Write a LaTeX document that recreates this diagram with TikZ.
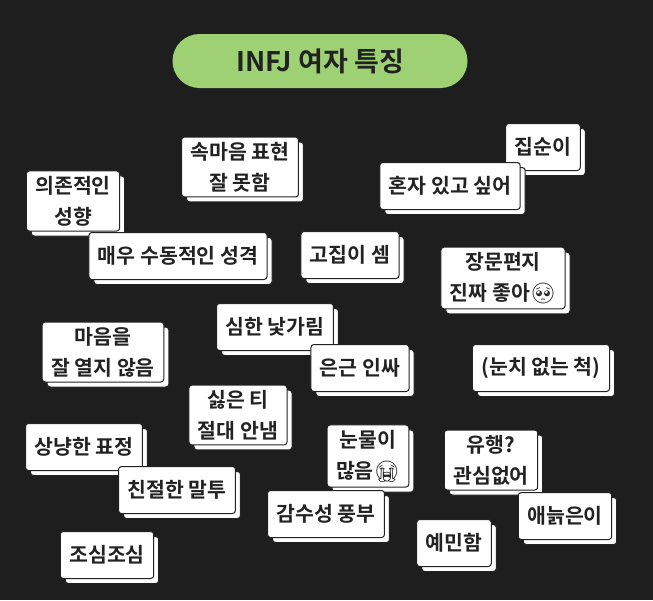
\documentclass[tikz,border=0pt]{standalone}
\usepackage{fontspec}
\setmainfont{Noto Sans CJK KR}[BoldFont={Noto Sans CJK KR Bold}]
\newfontfamily\emj{Noto Emoji}
\usetikzlibrary{shadows}
\definecolor{bgdark}{HTML}{1E1E1F}
\definecolor{pillgreen}{HTML}{9ED174}
\definecolor{inkdark}{HTML}{222222}
\tikzset{card/.style={draw=inkdark, fill=white, rounded corners=3pt, line width=1pt,
    inner xsep=9pt, inner ysep=5pt, minimum height=47pt, align=center,
    font=\bfseries\fontsize{20.5}{31}\selectfont, text=inkdark,
    copy shadow={shadow xshift=5pt, shadow yshift=-5pt, fill=white, draw=inkdark}},
    pill/.style={fill=pillgreen, rounded corners=27pt, minimum width=295pt,
    minimum height=54pt, font=\bfseries\fontsize{27}{30}\selectfont, text=inkdark}}
\begin{document}
\begin{tikzpicture}[x=1pt,y=-1pt]
\fill[bgdark] (0,0) rectangle (653,600);
\useasboundingbox (0,0) rectangle (653,600);
\node[pill] (title) at (320,61) {INFJ 여자 특징};
% cards, back to front
\node[card] (dep) at (73,201) {의존적인\\성향};
\node[card] (hide) at (240,167) {속마음 표현\\잘 못함};
\node[card] (home) at (543,147) {집순이};
\node[card] (alone) at (450,186) {혼자 있고 싶어};
\node[card] (passive) at (178,256) {매우 수동적인 성격};
\node[card] (stubborn) at (350,255) {고집이 셈};
\node[card] (letter) at (503,278) {장문편지\\진짜 좋아{\emj 🥺}};
\node[card] (closed) at (103,352) {마음을\\잘 열지 않음};
\node[card] (shy) at (275,327) {심한 낯가림};
\node[card] (insider) at (360,368) {은근 인싸};
\node[card] (nunchi) at (541,368) {(눈치 없는 척)};
\node[card] (nodis) at (238,415) {싫은 티\\절대 안냄};
\node[card] (kind) at (84,447) {상냥한 표정};
\node[card] (tears) at (368,456) {눈물이\\많음{\emj 😭}};
\node[card] (trend) at (491,460) {유행?\\관심없어};
\node[card] (tone) at (177,490) {친절한 말투};
\node[card] (sense) at (326,514) {감수성 풍부};
\node[card] (oldsoul) at (565,516) {애늙은이};
\node[card] (sensitive) at (454,543) {예민함};
\node[card] (careful) at (107,555) {조심조심};
\end{tikzpicture}
\end{document}
